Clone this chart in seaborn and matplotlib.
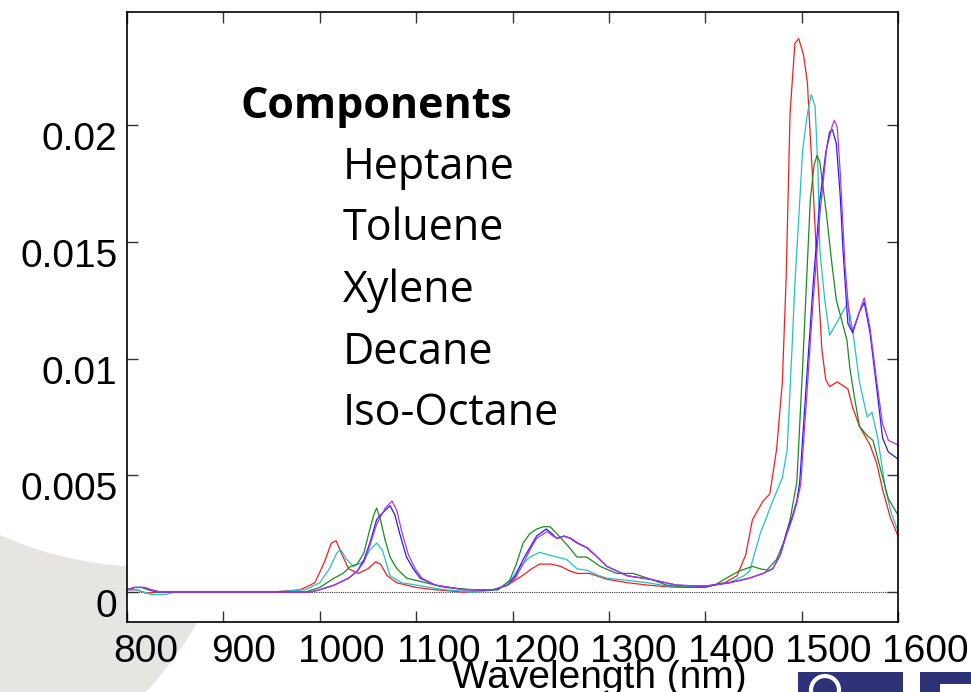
import numpy as np
import pandas as pd
import matplotlib
matplotlib.use("Agg")
import matplotlib.pyplot as plt
import matplotlib.patches as mpatches
from matplotlib.transforms import ScaledTranslation
import seaborn as sns

# ---- spectra: wavelength (nm) and absorbance for each trace ----
wl_red = [800, 810, 820, 830, 850, 900, 950, 980, 995, 1005, 1012, 1017, 1022, 1030, 1040,
          1050, 1058, 1063, 1070, 1080, 1090, 1100, 1120, 1150, 1180, 1195, 1210, 1220, 1228,
          1240, 1250, 1260, 1267, 1280, 1298, 1320, 1340, 1370, 1400, 1420, 1433, 1442, 1449,
          1460, 1467, 1474, 1480, 1484, 1488, 1493, 1497, 1502, 1506, 1511, 1516, 1521, 1525,
          1529, 1537, 1548, 1553, 1560, 1571, 1578, 1584, 1592, 1600]
abs_red = [0.0001, 0.0001, -0.00005, 0.0, 0.0, 0.0, 0.0, 0.0001, 0.0004, 0.0013, 0.0021, 0.0022,
           0.0017, 0.0010, 0.0008, 0.0010, 0.0013, 0.0012, 0.0007, 0.0004, 0.0003, 0.0002, 0.0001,
           0.0, 0.0001, 0.0003, 0.0007, 0.0010, 0.0012, 0.0012, 0.0011, 0.0009, 0.0008, 0.0008,
           0.00055, 0.0004, 0.0003, 0.0002, 0.00025, 0.0004, 0.0007, 0.0016, 0.0031, 0.0039,
           0.0042, 0.0061, 0.0090, 0.0135, 0.0205, 0.0235, 0.0237, 0.0230, 0.0218, 0.0180, 0.0140,
           0.0104, 0.0091, 0.0088, 0.0090, 0.0087, 0.0079, 0.0071, 0.0063, 0.0055, 0.0044, 0.0032,
           0.0024]

wl_cyan = [800, 810, 825, 840, 850, 900, 950, 985, 1000, 1010, 1018, 1022, 1028, 1035, 1045,
           1052, 1059, 1065, 1073, 1085, 1100, 1130, 1160, 1185, 1198, 1208, 1218, 1228, 1246,
           1256, 1267, 1277, 1290, 1298, 1320, 1340, 1370, 1400, 1425, 1440, 1446, 1457, 1470,
           1480, 1485, 1490, 1493, 1497, 1501, 1506, 1510, 1514, 1517, 1519, 1524, 1529, 1540,
           1548, 1553, 1560, 1568, 1573, 1579, 1587, 1593, 1600]
abs_cyan = [0.0001, 0.0001, -0.0001, -0.0001, 0.0, 0.0, 0.0, 0.0001, 0.0004, 0.0010, 0.0017,
            0.0018, 0.0014, 0.0011, 0.0013, 0.0018, 0.0021, 0.0018, 0.0007, 0.0004, 0.0003,
            0.0001, 0.0, 0.0001, 0.0005, 0.0011, 0.0015, 0.0017, 0.0015, 0.0014, 0.0010, 0.00094,
            0.0007, 0.0006, 0.0005, 0.0004, 0.0002, 0.00025, 0.0004, 0.0007, 0.0009, 0.0025,
            0.0039, 0.0049, 0.0061, 0.0104, 0.0132, 0.0160, 0.0189, 0.0205, 0.0213, 0.0208,
            0.0180, 0.0146, 0.0125, 0.0110, 0.0118, 0.0124, 0.0112, 0.0090, 0.0075, 0.0077,
            0.0066, 0.0044, 0.0034, 0.0026]

wl_green = [800, 808, 815, 822, 830, 900, 950, 985, 1000, 1015, 1024, 1032, 1039, 1046, 1052,
            1056, 1059, 1063, 1068, 1073, 1080, 1090, 1110, 1130, 1160, 1185, 1197, 1204, 1211,
            1218, 1225, 1232, 1239, 1246, 1257, 1267, 1277, 1284, 1291, 1308, 1325, 1340, 1360,
            1380, 1400, 1410, 1422, 1435, 1449, 1457, 1464, 1474, 1482, 1488, 1495, 1501, 1505,
            1509, 1513, 1516, 1519, 1526, 1531, 1536, 1547, 1550, 1555, 1560, 1568, 1574, 1581,
            1590, 1600]
abs_green = [0.0001, 0.0002, 0.0002, 0.0001, 0.0, 0.0, 0.0, 0.0, 0.0002, 0.0006, 0.0008,
             0.0011, 0.0012, 0.0017, 0.0027, 0.0033, 0.0036, 0.0031, 0.0022, 0.0015, 0.0010,
             0.0006, 0.0004, 0.0002, 0.0001, 0.0001, 0.0005, 0.0012, 0.0021, 0.0025, 0.0027,
             0.0028, 0.0028, 0.0025, 0.0020, 0.0015, 0.0015, 0.0013, 0.0011, 0.0008, 0.0008,
             0.0006, 0.0003, 0.0002, 0.0002, 0.0003, 0.0006, 0.0009, 0.0011, 0.0010, 0.00094,
             0.0014, 0.0022, 0.0031, 0.0047, 0.0096, 0.0132, 0.0168, 0.0183, 0.0187, 0.0184,
             0.0161, 0.0142, 0.0125, 0.0108, 0.0096, 0.0083, 0.0071, 0.0067, 0.0065, 0.0054,
             0.0040, 0.0033]

wl_blue = [800, 808, 818, 825, 835, 900, 960, 990, 1000, 1015, 1030, 1039, 1046, 1052, 1059,
           1063, 1068, 1073, 1078, 1083, 1090, 1097, 1104, 1120, 1150, 1180, 1195, 1203, 1211,
           1218, 1225, 1235, 1241, 1246, 1253, 1260, 1267, 1277, 1288, 1298, 1319, 1343, 1370,
           1400, 1425, 1446, 1460, 1470, 1478, 1484, 1490, 1495, 1498, 1505, 1512, 1519, 1525,
           1529, 1532, 1536, 1540, 1543, 1548, 1553, 1560, 1565, 1571, 1578, 1584, 1590, 1600]
abs_blue = [0.0001, 0.0002, 0.0002, 0.0001, 0.0, 0.0, 0.0, 0.0, 0.0001, 0.0003, 0.0006, 0.0009,
            0.0014, 0.0021, 0.0031, 0.0033, 0.0035, 0.0037, 0.0033, 0.0025, 0.0015, 0.0010,
            0.0006, 0.0003, 0.0001, 0.0001, 0.0003, 0.0007, 0.0014, 0.0019, 0.0024, 0.0027,
            0.0025, 0.0023, 0.0024, 0.0023, 0.0021, 0.0019, 0.0015, 0.0011, 0.0007, 0.00055,
            0.0003, 0.00025, 0.0004, 0.0006, 0.0008, 0.0010, 0.0016, 0.0025, 0.0032, 0.0039,
            0.0047, 0.0090, 0.0132, 0.0168, 0.0188, 0.0197, 0.0198, 0.0192, 0.0170, 0.0146,
            0.0115, 0.0111, 0.0120, 0.0124, 0.0111, 0.0087, 0.0066, 0.0060, 0.0057]

wl_purple = [800, 808, 818, 825, 835, 900, 960, 990, 1000, 1015, 1030, 1039, 1046, 1052, 1059,
             1068, 1075, 1080, 1085, 1092, 1099, 1106, 1120, 1150, 1180, 1195, 1203, 1211, 1218,
             1225, 1236, 1242, 1247, 1254, 1261, 1268, 1278, 1288, 1298, 1319, 1343, 1370, 1400,
             1425, 1446, 1460, 1470, 1478, 1484, 1490, 1495, 1499, 1505, 1512, 1519, 1526, 1532,
             1534, 1537, 1540, 1545, 1550, 1553, 1560, 1565, 1571, 1578, 1584, 1590, 1600]
abs_purple = [0.0001, 0.0002, 0.0002, 0.0001, 0.0, 0.0, 0.0, 0.0, 0.0001, 0.0003, 0.0006,
              0.0009, 0.0013, 0.0020, 0.0029, 0.0036, 0.0039, 0.0035, 0.0026, 0.0016, 0.0010,
              0.0006, 0.0003, 0.0001, 0.0001, 0.0003, 0.0006, 0.0012, 0.0018, 0.0023, 0.0026,
              0.0024, 0.0023, 0.0024, 0.0023, 0.0021, 0.0019, 0.0015, 0.0011, 0.0007, 0.00055,
              0.0003, 0.00025, 0.0004, 0.0006, 0.0008, 0.0010, 0.0016, 0.0024, 0.0031, 0.0038,
              0.0046, 0.0082, 0.0125, 0.0162, 0.0190, 0.0200, 0.0202, 0.0199, 0.0180, 0.0140,
              0.0115, 0.0112, 0.0120, 0.0126, 0.0113, 0.0090, 0.0072, 0.0065, 0.0063]

trace_names = ["red", "cyan", "green", "blue", "purple"]
trace_colors = ["#ff1a1a", "#1fc4c8", "#1a8c1a", "#1f1fff", "#b233e6"]

components_title = "Components"
components = ["Heptane", "Toluene", "Xylene", "Decane", "Iso-Octane"]

x_ticks = [800, 900, 1000, 1100, 1200, 1300, 1400, 1500, 1600]
y_ticks = [0, 0.005, 0.01, 0.015, 0.02]
y_tick_labels = ["0", "0.005", "0.01", "0.015", "0.02"]

# ---- long-form table for seaborn ----
frames = []
for name, wl, ab in zip(trace_names,
                        [wl_red, wl_cyan, wl_green, wl_blue, wl_purple],
                        [abs_red, abs_cyan, abs_green, abs_blue, abs_purple]):
    frames.append(pd.DataFrame({"wavelength": wl, "absorbance": ab, "trace": name}))
df = pd.concat(frames, ignore_index=True)

sns.set_theme(style="white")
plt.rcParams["font.family"] = ["Liberation Sans", "DejaVu Sans"]

W, H = 971, 692
fig = plt.figure(figsize=(W / 100, H / 100), dpi=100)
fig.patch.set_facecolor("white")

# light grey decorative ring behind the plot area
ring = mpatches.Circle((-150 / 100, (H - 420) / 100), 402 / 100, transform=fig.dpi_scale_trans,
                       facecolor="#e6e5e1", edgecolor="none", zorder=0)
fig.patches.append(ring)
hole = mpatches.Circle((150 / 100, (H - 200) / 100), 367 / 100, transform=fig.dpi_scale_trans,
                       facecolor="white", edgecolor="none", zorder=0)
fig.patches.append(hole)

# corner logo blocks
for x0, x1 in [(798, 903), (920, 971)]:
    fig.patches.append(mpatches.Rectangle((x0 / W, 0), (x1 - x0) / W, 20 / H,
                                          transform=fig.transFigure, facecolor="#2e3277",
                                          edgecolor="none", zorder=1))
fig.patches.append(mpatches.Circle((825 / 100, 2 / 100), 14 / 100, transform=fig.dpi_scale_trans,
                                   facecolor="none", edgecolor="white", lw=3, zorder=2))
fig.patches.append(mpatches.Rectangle((940 / W, 0), 31 / W, 8 / H, transform=fig.transFigure,
                                      facecolor="white", edgecolor="none", zorder=2))

ax = fig.add_axes([127 / W, 1 - 622 / H, (898 - 127) / W, (622 - 12) / H])
ax.set_facecolor("white")
ax.set_zorder(3)

sns.lineplot(data=df, x="wavelength", y="absorbance", hue="trace",
             palette=dict(zip(trace_names, trace_colors)), hue_order=trace_names,
             estimator=None, sort=False, linewidth=0.9, legend=False, ax=ax)

ax.axhline(0, color="#333333", lw=0.8, ls=(0, (1, 1)), zorder=1)

ax.set_xlim(800, 1600)
ax.set_ylim(-0.00128, 0.02484)
ax.set_xticks(x_ticks)
ax.set_xticklabels([str(v) for v in x_ticks])
ax.set_yticks(y_ticks)
ax.set_yticklabels(y_tick_labels)

ax.tick_params(axis="both", which="both", direction="in", length=8, width=1.0,
               color="#333333", labelsize=28, labelcolor="black",
               top=True, right=True, bottom=True, left=True)
ax.tick_params(axis="x", pad=9)
ax.tick_params(axis="y", pad=7)

for i, lab in enumerate(ax.get_xticklabels()):
    dx = (19 + 1.1 * i) / 100
    lab.set_transform(lab.get_transform() + ScaledTranslation(dx, 0, fig.dpi_scale_trans))
for lab in ax.get_yticklabels():
    lab.set_transform(lab.get_transform() + ScaledTranslation(0, -11 / 100, fig.dpi_scale_trans))

for sp in ax.spines.values():
    sp.set_visible(True)
    sp.set_color("black")
    sp.set_linewidth(1.2)

ax.set_xlabel("Wavelength (nm)", fontsize=28, color="black")
ax.set_ylabel("")
ax.xaxis.label.set_va("baseline")
ax.xaxis.set_label_coords((599 - 127) / (898 - 127), -(688 - 622) / (622 - 12))

# component list
ax.text(240 / W, 1 - 118 / H, components_title, transform=fig.transFigure,
        family=["Open Sans", "DejaVu Sans"], fontweight="bold", fontsize=31, va="baseline",
        ha="left", color="black", zorder=5)
for k, name in enumerate(components):
    ax.text(343 / W, 1 - (179 + 61.5 * k) / H, name, transform=fig.transFigure,
            family=["Open Sans", "DejaVu Sans"], fontsize=31, va="baseline", ha="left",
            color="black", zorder=5)

fig.savefig("out.png", dpi=100, facecolor="white")
